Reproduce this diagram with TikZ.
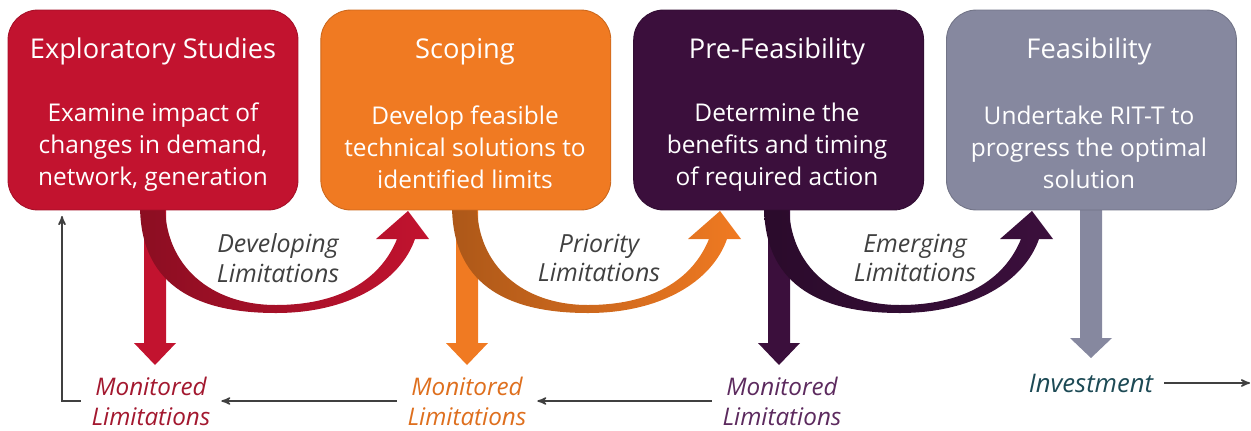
\documentclass[tikz,border=0pt]{standalone}
\usepackage{fontspec}
\setmainfont{Open Sans}
\usetikzlibrary{positioning}
\usetikzlibrary{arrows}

\definecolor{stageRed}{HTML}{C2132F}
\definecolor{stageOrange}{HTML}{F07A22}
\definecolor{stagePurple}{HTML}{3B0F3C}
\definecolor{stageGrey}{HTML}{86889F}
\definecolor{textGrey}{HTML}{404040}
\definecolor{investTeal}{HTML}{1D4A55}
\definecolor{monRed}{HTML}{A3182F}
\definecolor{monOrange}{HTML}{DE6F1E}
\definecolor{monPurple}{HTML}{5C2A5E}

\tikzset{
  stage/.style={rounded corners=0.6cm, minimum width=5.8cm, minimum height=4cm,
    draw=#1!85!black, fill=#1, line width=0.5pt},
  stitle/.style={anchor=base, text=white, font=\fontsize{15.5}{18}\selectfont},
  sbody/.style={align=center, text=white, font=\fontsize{13.9}{18.2}\selectfont},
  phase/.style={align=center, text=textGrey, font=\fontsize{14.2}{17}\selectfont\itshape},
  monitor/.style={align=center, text=#1, inner sep=6pt, font=\fontsize{13.8}{17}\selectfont\itshape},
  flow/.style={draw=textGrey, line width=0.85pt, ->, >=stealth'},
}

\begin{document}
\begin{tikzpicture}[x=0.02cm, y=-0.02cm]
\useasboundingbox (0,0) rectangle (1251,430);

% drop arrows down to the monitored limitations
\foreach \L/\c in {8/stageRed, 320/stageOrange, 632/stagePurple} {
 \fill[\c] (\L+136,205) -- (\L+158,205) -- (\L+158,343) -- (\L+168,343)
   -- (\L+147,365) -- (\L+126,343) -- (\L+136,343) -- cycle;
}
\fill[stageGrey] (1080,205) -- (1102,205) -- (1102,338) -- (1112,338)
   -- (1091,358) -- (1070,338) -- (1080,338) -- cycle;

% curved arrows from one stage to the next
\foreach \L/\c in {8/stageRed, 320/stageOrange, 632/stagePurple} {
 \shade[left color=\c!72!black, middle color=\c, right color=\c]
   (\L+132,205) .. controls (\L+132,290) and (\L+195,313) .. (\L+268,313)
   .. controls (\L+340,313) and (\L+392,282) .. (\L+407,239)
   -- (\L+421,239) -- (\L+400,211) -- (\L+368,239) -- (\L+389,239)
   .. controls (\L+372,281) and (\L+330,305) .. (\L+268,305)
   .. controls (\L+202,305) and (\L+157,265) .. (\L+157,205) -- cycle;
}

% stages
\node[stage=stageRed] (b1) at (153,110) {};
\node[stage=stageOrange, right=0.44cm of b1] (b2) {};
\node[stage=stagePurple, right=0.44cm of b2] (b3) {};
\node[stage=stageGrey, right=0.44cm of b3] (b4) {};

\node[stitle] (t1) at (153,58) {Exploratory Studies};
\node[stitle] (t2) at (465,58) {Scoping};
\node[stitle] (t3) at (777,58) {Pre-Feasibility};
\node[stitle] (t4) at (1089,58) {Feasibility};

\node[sbody] (d1) at (153,147) {Examine impact of\\changes in demand,\\network, generation};
\node[sbody] (d2) at (465,147) {Develop feasible\\technical solutions to\\identified limits};
\node[sbody] (d3) at (777,147) {Determine the\\benefits and timing\\of required action};
\node[sbody] (d4) at (1089,147) {Undertake RIT-T to\\progress the optimal\\solution};

% labels on the curved arrows
\node[phase] (p1) at (278,258) {Developing\\Limitations};
\node[phase] (p2) at (599,258) {Priority\\Limitations};
\node[phase] (p3) at (915,258) {Emerging\\Limitations};

% bottom row
\node[monitor=monRed] (m1) at (151,401) {Monitored\\Limitations};
\node[monitor=monOrange] (m2) at (467,401) {Monitored\\Limitations};
\node[monitor=monPurple] (m3) at (782,401) {Monitored\\Limitations};
\node[monitor=investTeal, font=\fontsize{14.6}{17}\selectfont\itshape] (inv) at (1091,383) {Investment};

\coordinate (fb) at (62,216);
\coordinate (out) at (1250,383);
\draw[flow] (m3) -- (m2);
\draw[flow] (m2) -- (m1);
\draw[flow] (m1.west) -| (fb);
\draw[flow] (inv) -- (out);
\end{tikzpicture}
\end{document}
